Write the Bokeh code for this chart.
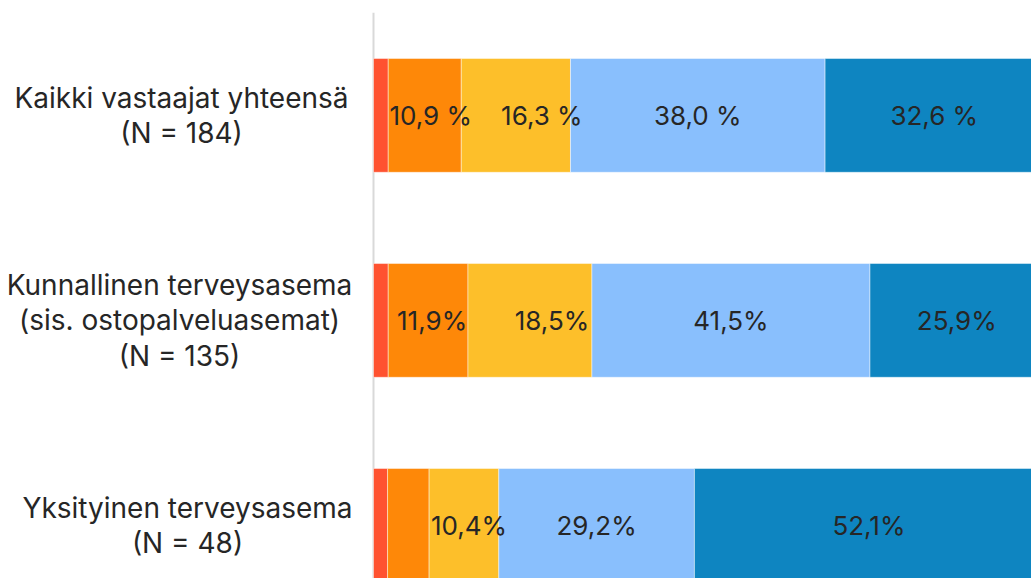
from bokeh.plotting import figure
from bokeh.models import Range1d, ColumnDataSource, Span
from bokeh.core.properties import value
from bokeh.embed import file_html
from bokeh.resources import INLINE

categories = [
    "Kaikki vastaajat yhteensä\n(N = 184)",
    "Kunnallinen terveysasema\n(sis. ostopalveluasemat)\n(N = 135)",
    "Yksityinen terveysasema\n(N = 48)",
]
series_names = ["s1", "s2", "s3", "s4", "s5"]
s1 = [2.2, 2.2, 2.1]
s2 = [10.9, 11.9, 6.2]
s3 = [16.3, 18.5, 10.4]
s4 = [38.0, 41.5, 29.2]
s5 = [32.6, 25.9, 52.1]
label_suffix = [" %", "%", "%"]

colors = ["#ff5230", "#fe8808", "#fdbf2a", "#89bffd", "#0e85c1"]
FONT = "Inter"
TEXT_COLOR = "#262626"
# manual label nudges (px) like in the reference, by series then category
label_nudge = [[0, 0, 0], [6, 4, 0], [26, 22, 5], [0, 0, 0], [0, 0, 0]]
# category label block centres, px left of the value axis
cat_label_offset = [-192, -194, -186]

PX_PER_UNIT = 6.70
p = figure(width=1031, height=578, output_backend="svg", toolbar_location=None,
           x_range=Range1d(-373 / PX_PER_UNIT, 658 / PX_PER_UNIT),
           y_range=Range1d(2.259, -0.502),
           min_border_left=0, min_border_right=0, min_border_top=12,
           min_border_bottom=0, outline_line_color=None)
p.xaxis.visible = False
p.yaxis.visible = False
p.xgrid.visible = False
p.ygrid.visible = False
p.add_layout(Span(location=0, dimension="height", line_color="#d9d9d9",
                  line_width=2, level="underlay"))

ys = list(range(len(categories)))
all_series = [s1, s2, s3, s4, s5]
left = [0.0] * len(categories)
tx, ty, tt, toff = [], [], [], []
for si, (vals, col) in enumerate(zip(all_series, colors)):
    right = [l + v for l, v in zip(left, vals)]
    src = ColumnDataSource(dict(y=ys, left=left, right=right))
    p.hbar(y="y", left="left", right="right", height=0.555, source=src,
           fill_color=col, line_color="white", line_width=1, line_alpha=0.45)
    for ci, v in enumerate(vals):
        if v >= 10:
            tx.append(left[ci] + v / 2)
            ty.append(ci)
            tt.append(f"{v:.1f}".replace(".", ",") + label_suffix[ci])
            toff.append(label_nudge[si][ci])
    left = right

lsrc = ColumnDataSource(dict(x=tx, y=ty, t=tt, off=toff))
p.text(x="x", y="y", text="t", x_offset="off", source=lsrc,
       text_align="center", text_baseline="middle",
       text_font=value(FONT), text_font_size="26px", text_color=TEXT_COLOR)

csrc = ColumnDataSource(dict(x=[0] * len(categories), y=ys, t=categories,
                             off=cat_label_offset))
p.text(x="x", y="y", text="t", x_offset="off", source=csrc,
       text_align="center", text_baseline="middle", text_line_height=1.05,
       text_font=value(FONT), text_font_size="28px", text_color=TEXT_COLOR)

open("out.html", "w").write(file_html(p, INLINE))
